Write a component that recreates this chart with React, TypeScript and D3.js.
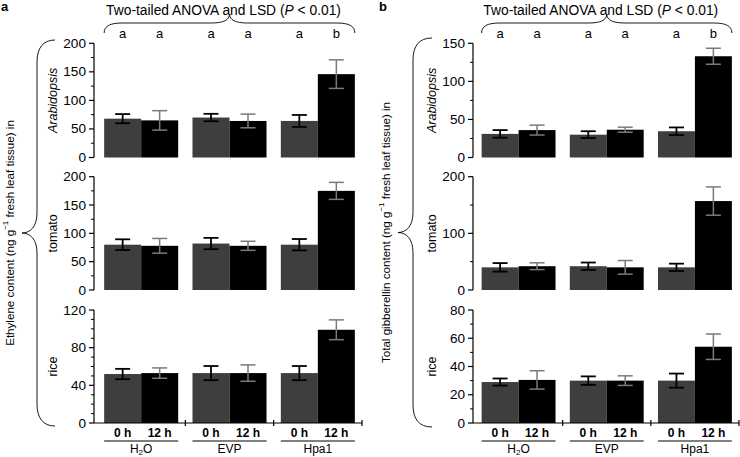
import React from "react";
import * as d3 from "d3";

const groups = ["H2O", "EVP", "Hpa1"];
const times = ["0 h", "12 h"];
const plants = ["Arabidopsis", "tomato", "rice"];
const letters = ["a", "a", "a", "a", "a", "b"];

// order: H2O 0h, H2O 12h, EVP 0h, EVP 12h, Hpa1 0h, Hpa1 12h
const ethArabMean = [68, 65, 70, 64, 64, 146];
const ethArabErr = [8, 17, 6.5, 12, 10.5, 25];
const ethTomMean = [80, 78, 82, 78, 80, 175];
const ethTomErr = [9.5, 13, 10, 8, 10, 15];
const ethRiceMean = [52, 53, 53, 53, 53, 99];
const ethRiceErr = [5.5, 5.5, 7.5, 8.7, 7.5, 10.5];

const gaArabMean = [31, 36, 30, 36.5, 34.5, 133];
const gaArabErr = [5, 6.5, 4.5, 3.3, 5, 10.5];
const gaTomMean = [40, 42, 42, 40, 40, 157];
const gaTomErr = [7.5, 6, 6.5, 12, 6.5, 25];
const gaRiceMean = [29, 30.5, 30, 30, 30, 54];
const gaRiceErr = [2.5, 6.5, 3, 3.4, 5, 9];

// y axis settings: [max, major step, minor step]
const ethAxes = [[200, 50, 25], [200, 50, 25], [120, 40, 10]];
const gaAxes = [[150, 50, 25], [200, 100, 50], [80, 20, 10]];

const FONT = "'Liberation Sans', Arial, Helvetica, sans-serif";
const ROWS = [
  { top: 43.3, bottom: 157.5 },
  { top: 176.7, bottom: 290 },
  { top: 310, bottom: 423 },
];
const GRAY = "#3e3e3e";
const ERR_GRAY = "#7a7a7a";

type PanelProps = {
  letter: string;
  axisX: number;
  bandStart: number;
  bandEnd: number;
  means: number[][];
  errs: number[][];
  axes: number[][];
  yTitle: string;
  brace: { xEnd: number; xV: number; xP: number; yTop: number; yBot: number };
  letterX: number;
};

function Panel(p: PanelProps) {
  const xG = d3
    .scaleBand<string>()
    .domain(groups)
    .range([p.bandStart, p.bandEnd])
    .paddingInner(0.162)
    .paddingOuter(0.081);
  const xT = d3.scaleBand<string>().domain(times).range([0, xG.bandwidth()]);
  const step = xG.step();
  const barX = (i: number) => (xG(groups[Math.floor(i / 2)]) as number) + (xT(times[i % 2]) as number);
  const bw = xT.bandwidth();

  const tb = {
    xL: barX(0),
    xR: barX(5) + bw,
    xP: (xG(groups[1]) as number) + xG.bandwidth() / 2,
    yEnd: 33,
    yH: 23,
    yP: 14,
  };
  const topBrace = `M ${tb.xL} ${tb.yEnd} C ${tb.xL} ${tb.yH + 3}, ${tb.xL + 6} ${tb.yH}, ${tb.xL + 18} ${tb.yH} L ${tb.xP - 18} ${tb.yH} C ${tb.xP - 6} ${tb.yH}, ${tb.xP} ${tb.yH - 3}, ${tb.xP} ${tb.yP} C ${tb.xP} ${tb.yH - 3}, ${tb.xP + 6} ${tb.yH}, ${tb.xP + 18} ${tb.yH} L ${tb.xR - 18} ${tb.yH} C ${tb.xR - 6} ${tb.yH}, ${tb.xR} ${tb.yH + 3}, ${tb.xR} ${tb.yEnd}`;

  const b = p.brace;
  const yMid = (b.yTop + b.yBot) / 2;
  const leftBrace = `M ${b.xEnd} ${b.yTop} C ${b.xV + 6} ${b.yTop}, ${b.xV} ${b.yTop + 8}, ${b.xV} ${b.yTop + 22} L ${b.xV} ${yMid - 20} C ${b.xV} ${yMid - 6}, ${b.xV - 7} ${yMid}, ${b.xP} ${yMid} C ${b.xV - 7} ${yMid}, ${b.xV} ${yMid + 6}, ${b.xV} ${yMid + 20} L ${b.xV} ${b.yBot - 22} C ${b.xV} ${b.yBot - 8}, ${b.xV + 6} ${b.yBot}, ${b.xEnd} ${b.yBot}`;

  return (
    <g fontFamily={FONT}>
      <text x={p.letterX} y={11} fontSize={13} fontWeight="bold" fill="#000">
        {p.letter}
      </text>
      <text x={tb.xP - 6} y={15} fontSize={13.8} textAnchor="middle" fill="#000">
        Two-tailed ANOVA and LSD (<tspan fontStyle="italic">P</tspan> &lt; 0.01)
      </text>
      <path d={topBrace} fill="none" stroke="#000" strokeWidth={0.9} />
      {letters.map((l, i) => (
        <text key={"l" + i} x={barX(i) + bw / 2} y={38} fontSize={13} textAnchor="middle" fill="#000">
          {l}
        </text>
      ))}
      <path d={leftBrace} fill="none" stroke="#000" strokeWidth={0.9} />
      <text
        transform={`translate(${b.xP - 13},${yMid}) rotate(-90)`}
        fontSize={11.6}
        textAnchor="middle"
        dominantBaseline="central"
        fill="#000"
      >
        {p.yTitle} content (ng g<tspan dy={-4} fontSize={8}>−1</tspan>
        <tspan dy={4}> fresh leaf tissue) in</tspan>
      </text>
      {plants.map((plant, r) => {
        const [max, major, minor] = p.axes[r];
        const row = ROWS[r];
        const y = d3.scaleLinear().domain([0, max]).range([row.bottom, row.top]);
        const majors = d3.range(0, max + 0.001, major);
        const minors = d3.range(0, max + 0.001, minor).filter((v) => Math.abs(v / major - Math.round(v / major)) > 1e-6);
        return (
          <g key={plant}>
            {p.means[r].map((m, i) => (
              <rect
                key={"b" + i}
                x={barX(i)}
                y={y(m)}
                width={bw}
                height={y(0) - y(m)}
                fill={i % 2 === 0 ? GRAY : "#000"}
              />
            ))}
            {p.means[r].map((m, i) => {
              const e = p.errs[r][i];
              const cx = barX(i) + bw / 2;
              const col = i % 2 === 0 ? "#000" : ERR_GRAY;
              const sw = i % 2 === 0 ? 1.8 : 1.5;
              const cw = 7.5;
              return (
                <g key={"e" + i} stroke={col} strokeWidth={sw}>
                  <line x1={cx} x2={cx} y1={y(m + e)} y2={y(m - e)} />
                  <line x1={cx - cw} x2={cx + cw} y1={y(m + e)} y2={y(m + e)} />
                  <line x1={cx - cw} x2={cx + cw} y1={y(m - e)} y2={y(m - e)} />
                </g>
              );
            })}
            <line x1={p.axisX} x2={p.axisX} y1={row.top} y2={row.bottom} stroke="#000" strokeWidth={1.2} />
            {majors.map((v) => (
              <g key={"t" + v}>
                <line x1={p.axisX - 5} x2={p.axisX} y1={y(v)} y2={y(v)} stroke="#000" strokeWidth={1.2} />
                <text
                  x={p.axisX - 8}
                  y={y(v)}
                  fontSize={13.6}
                  textAnchor="end"
                  dominantBaseline="central"
                  fill="#000"
                >
                  {v}
                </text>
              </g>
            ))}
            {minors.map((v) => (
              <line key={"m" + v} x1={p.axisX - 3} x2={p.axisX} y1={y(v)} y2={y(v)} stroke="#000" strokeWidth={1} />
            ))}
            <text
              transform={`translate(${p.axisX - 41},${(row.top + row.bottom) / 2}) rotate(-90)`}
              fontSize={12.5}
              textAnchor="middle"
              dominantBaseline="central"
              fontStyle={r === 0 ? "italic" : "normal"}
              fill="#000"
            >
              {plant}
            </text>
            {r === 2 && (
              <g>
                <line x1={p.axisX} x2={p.bandEnd} y1={row.bottom} y2={row.bottom} stroke="#000" strokeWidth={1.2} />
                {groups.map((g, gi) => (
                  <line
                    key={"s" + g}
                    x1={p.bandStart + step * (gi + 1)}
                    x2={p.bandStart + step * (gi + 1)}
                    y1={row.bottom - 3}
                    y2={row.bottom + 3}
                    stroke="#000"
                    strokeWidth={1.2}
                  />
                ))}
                {p.means[r].map((_, i) => (
                  <text
                    key={"x" + i}
                    x={barX(i) + bw / 2}
                    y={437}
                    fontSize={12}
                    fontWeight="bold"
                    textAnchor="middle"
                    fill="#000"
                  >
                    {times[i % 2]}
                  </text>
                ))}
                {groups.map((g) => {
                  const gx = xG(g) as number;
                  return (
                    <g key={"g" + g}>
                      <line x1={gx} x2={gx + xG.bandwidth()} y1={441} y2={441} stroke="#000" strokeWidth={1.2} />
                      <text x={gx + xG.bandwidth() / 2} y={453} fontSize={12} textAnchor="middle" fill="#000">
                        {g === "H2O" ? (
                          <>
                            H<tspan fontSize={8} dy={2}>2</tspan>
                            <tspan dy={-2}>O</tspan>
                          </>
                        ) : (
                          g
                        )}
                      </text>
                    </g>
                  );
                })}
              </g>
            )}
          </g>
        );
      })}
    </g>
  );
}

export default function App() {
  return (
    <svg
      width={740}
      height={457}
      style={{ position: "absolute", left: 0, top: 0, background: "#fff" }}
    >
      <rect width={740} height={457} fill="#fff" />
      <Panel
        letter="a"
        letterX={1}
        axisX={94}
        bandStart={97}
        bandEnd={362}
        means={[ethArabMean, ethTomMean, ethRiceMean]}
        errs={[ethArabErr, ethTomErr, ethRiceErr]}
        axes={ethAxes}
        yTitle="Ethylene"
        brace={{ xEnd: 55, xV: 37, xP: 22, yTop: 40, yBot: 426 }}
      />
      <Panel
        letter="b"
        letterX={379}
        axisX={473}
        bandStart={474.5}
        bandEnd={739}
        means={[gaArabMean, gaTomMean, gaRiceMean]}
        errs={[gaArabErr, gaTomErr, gaRiceErr]}
        axes={gaAxes}
        yTitle="Total gibberellin"
        brace={{ xEnd: 432, xV: 413, xP: 398, yTop: 38, yBot: 427 }}
      />
    </svg>
  );
}
